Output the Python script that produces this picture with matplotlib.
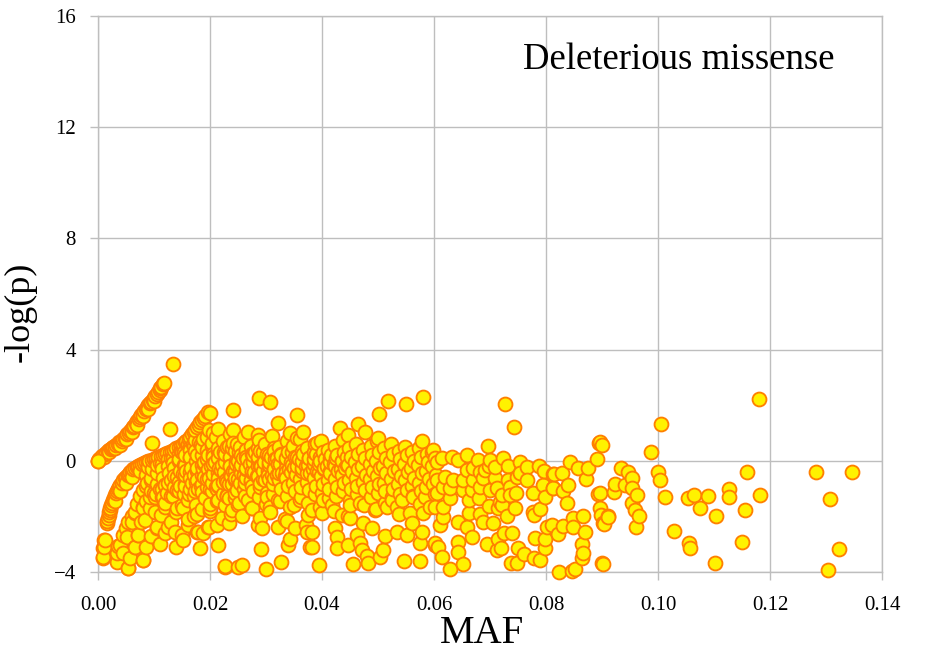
import matplotlib
matplotlib.use("Agg")
import matplotlib.pyplot as plt
import numpy as np

plt.rcParams['font.family'] = ['Liberation Serif', 'DejaVu Serif']

# top curve starting at the origin
curve_a_maf = [0.0000, 0.0005, 0.0010, 0.0015, 0.0020, 0.0025, 0.0030, 0.0035, 0.0040,
               0.0045, 0.0050, 0.0055, 0.0060, 0.0065, 0.0070, 0.0075, 0.0080, 0.0085,
               0.0090, 0.0095, 0.0100, 0.0105, 0.0110, 0.0113, 0.0116, 0.0118,
               0.00025, 0.00075, 0.00125, 0.00175, 0.00225, 0.00275, 0.00325, 0.00375,
               0.00425, 0.00475, 0.00525, 0.00575, 0.00625, 0.00675, 0.00725, 0.00775,
               0.00825, 0.00875, 0.00925, 0.00975, 0.01025, 0.01075, 0.01115,
               0.0010, 0.0020, 0.0030, 0.0040, 0.0050, 0.0060, 0.0070, 0.0080, 0.0090, 0.0100]
curve_a_logp = [0.00, 0.10, 0.19, 0.29, 0.38, 0.46, 0.54, 0.61, 0.68,
                0.77, 0.88, 1.00, 1.13, 1.27, 1.43, 1.58, 1.73, 1.87,
                2.00, 2.13, 2.26, 2.40, 2.55, 2.65, 2.75, 2.80,
                0.06, 0.16, 0.25, 0.34, 0.43, 0.51, 0.58, 0.66,
                0.73, 0.83, 0.95, 1.07, 1.20, 1.35, 1.51, 1.66,
                1.80, 1.94, 2.07, 2.20, 2.33, 2.48, 2.62,
                0.12, 0.30, 0.45, 0.58, 0.78, 1.02, 1.30, 1.60, 1.88, 2.15]

# second curve
curve_b_maf = [0.0016, 0.0018, 0.0020, 0.0022, 0.0025, 0.0028, 0.0032, 0.0036, 0.0040,
               0.0045, 0.0050, 0.0055, 0.0060, 0.0066, 0.0072, 0.0078, 0.0085, 0.0092,
               0.0100, 0.0108, 0.0116, 0.0124, 0.0132, 0.0140, 0.0148, 0.0155, 0.0162,
               0.0168, 0.0174, 0.0180, 0.0186, 0.0192, 0.0196,
               0.0017, 0.0019, 0.0021, 0.0024, 0.0027, 0.0030, 0.0034, 0.0038, 0.0043,
               0.0048, 0.0053, 0.0058, 0.0063, 0.0069, 0.0075, 0.0082, 0.0089, 0.0096,
               0.0104, 0.0112, 0.0120, 0.0128, 0.0136, 0.0144, 0.0152, 0.0158, 0.0165,
               0.0171, 0.0177, 0.0183, 0.0189,
               0.0030, 0.0040, 0.0050, 0.0060, 0.0075, 0.0090, 0.0110, 0.0130, 0.0150, 0.0170]
curve_b_logp = [-2.25, -2.05, -1.85, -1.68, -1.50, -1.33, -1.15, -1.00, -0.87,
                -0.70, -0.57, -0.46, -0.36, -0.27, -0.19, -0.12, -0.05, 0.01,
                0.07, 0.14, 0.21, 0.28, 0.36, 0.45, 0.55, 0.66, 0.80,
                0.95, 1.12, 1.30, 1.47, 1.62, 1.74,
                -2.15, -1.95, -1.76, -1.58, -1.40, -1.24, -1.07, -0.93, -0.78,
                -0.63, -0.51, -0.40, -0.31, -0.23, -0.15, -0.08, -0.02, 0.04,
                0.10, 0.17, 0.25, 0.32, 0.40, 0.50, 0.60, 0.72, 0.87,
                1.03, 1.21, 1.38, 1.55,
                -1.45, -1.10, -0.80, -0.58, -0.38, -0.22, -0.08, 0.10, 0.30, 0.62]

# fan of lower curves
fan_maf = [0.0010, 0.0010, 0.0009, 0.0034, 0.0036, 0.0045, 0.0050, 0.0054, 0.0060, 0.0066,
           0.0070, 0.0075, 0.0080, 0.0088, 0.0095, 0.0105, 0.0115, 0.0125, 0.0134, 0.0145,
           0.0155, 0.0164, 0.0172, 0.0180, 0.0188, 0.0195, 0.0205, 0.0215,
           0.0054, 0.0058, 0.0066, 0.0071, 0.0076, 0.0080, 0.0086, 0.0093, 0.0100, 0.0110,
           0.0120, 0.0130, 0.0141, 0.0152, 0.0164, 0.0176, 0.0190, 0.0205, 0.0218, 0.0230, 0.0242,
           0.0080, 0.0086, 0.0095, 0.0105, 0.0112, 0.0120, 0.0130, 0.0141, 0.0155, 0.0168,
           0.0177, 0.0190, 0.0205, 0.0220, 0.0235, 0.0250, 0.0265, 0.0280,
           0.0110, 0.0120, 0.0130, 0.0140, 0.0150, 0.0160, 0.0172, 0.0185, 0.0200, 0.0215,
           0.0230, 0.0245, 0.0260, 0.0275, 0.0290, 0.0305, 0.0320,
           0.0140, 0.0150, 0.0160, 0.0172, 0.0185, 0.0200, 0.0215, 0.0230, 0.0245, 0.0260,
           0.0275, 0.0290, 0.0305, 0.0320, 0.0335, 0.0350]
fan_logp = [-2.85, -3.10, -3.45, -3.30, -3.05, -2.67, -2.40, -2.20, -2.00, -1.84,
            -1.55, -1.25, -1.05, -0.80, -0.62, -0.43, -0.30, -0.17, -0.07, 0.08,
            0.22, 0.40, 0.55, 0.68, 0.78, 0.87, 1.00, 1.15,
            -3.86, -3.50, -3.10, -2.67, -2.20, -1.69, -1.45, -1.30, -1.15, -1.00,
            -0.86, -0.70, -0.58, -0.48, -0.40, -0.25, -0.05, 0.14, 0.32, 0.50, 0.65,
            -3.57, -3.10, -2.70, -2.38, -1.95, -1.51, -1.28, -1.05, -0.90, -0.78,
            -0.68, -0.58, -0.47, -0.33, -0.18, -0.02, 0.15, 0.32,
            -3.00, -2.60, -2.20, -1.85, -1.60, -1.40, -1.25, -1.12, -1.00, -0.88,
            -0.76, -0.62, -0.50, -0.35, -0.20, -0.05, 0.10,
            -3.10, -2.65, -2.30, -2.00, -1.75, -1.55, -1.40, -1.28, -1.15, -1.02,
            -0.90, -0.78, -0.65, -0.52, -0.40, -0.27]

# densest (orange) core of the cloud
core_maf = [0.0085, 0.0086, 0.0094, 0.0095, 0.0096, 0.0104, 0.0105, 0.0106, 0.0104,
            0.0114, 0.0115, 0.0116, 0.0115, 0.0124, 0.0125, 0.0126, 0.0125,
            0.0134, 0.0135, 0.0136, 0.0135, 0.0134, 0.0144, 0.0145, 0.0146, 0.0145, 0.0144,
            0.0154, 0.0155, 0.0156, 0.0155, 0.0154, 0.0164, 0.0165, 0.0166, 0.0165, 0.0164,
            0.0174, 0.0175, 0.0176, 0.0175, 0.0174, 0.0184, 0.0185, 0.0186, 0.0185, 0.0184,
            0.0194, 0.0195, 0.0196, 0.0195, 0.0194, 0.0204, 0.0205, 0.0206, 0.0205, 0.0204,
            0.0214, 0.0215, 0.0216, 0.0215, 0.0214, 0.0224, 0.0225, 0.0226, 0.0225,
            0.0234, 0.0235, 0.0236, 0.0235, 0.0234, 0.0244, 0.0245, 0.0246, 0.0245,
            0.0254, 0.0255, 0.0256, 0.0255, 0.0254, 0.0264, 0.0265, 0.0266, 0.0265,
            0.0274, 0.0275, 0.0276, 0.0275, 0.0284, 0.0285, 0.0286, 0.0285,
            0.0294, 0.0295, 0.0296, 0.0295, 0.0304, 0.0305, 0.0306,
            0.0314, 0.0315, 0.0316, 0.0315, 0.0324, 0.0325, 0.0326, 0.0334, 0.0335, 0.0336,
            0.0344, 0.0345, 0.0346, 0.0354, 0.0355, 0.0356, 0.0364, 0.0365, 0.0366,
            0.0374, 0.0375, 0.0376, 0.0384, 0.0385, 0.0386, 0.0394, 0.0395, 0.0396,
            0.0404, 0.0405, 0.0414, 0.0415, 0.0416, 0.0424, 0.0425, 0.0434, 0.0435,
            0.0444, 0.0445]
core_logp = [-0.90, -0.50, -1.10, -0.70, -0.30, -1.20, -0.85, -0.15, 0.00,
             -1.30, -1.00, -0.60, -0.10, -1.15, -0.80, -0.45, 0.05,
             -1.25, -0.95, -0.55, -0.25, 0.10, -1.10, -0.75, -0.35, 0.00, 0.25,
             -1.20, -0.85, -0.50, -0.15, 0.30, -1.00, -0.60, -0.25, 0.15, 0.50,
             -1.10, -0.75, -0.35, 0.00, 0.35, -0.90, -0.50, -0.15, 0.20, 0.60,
             -0.95, -0.65, -0.30, 0.05, 0.40, -0.80, -0.45, -0.10, 0.25, 0.65,
             -0.90, -0.60, -0.25, 0.10, 0.45, -0.75, -0.40, -0.05, 0.30,
             -0.85, -0.50, -0.20, 0.15, 0.55, -0.70, -0.35, 0.00, 0.35,
             -0.80, -0.45, -0.15, 0.20, 0.50, -0.60, -0.25, 0.05, 0.40,
             -0.70, -0.40, -0.05, 0.25, -0.55, -0.20, 0.15, 0.45,
             -0.65, -0.35, 0.00, 0.30, -0.50, -0.15, 0.20,
             -0.60, -0.30, 0.05, 0.35, -0.45, -0.10, 0.25, -0.55, -0.25, 0.10,
             -0.40, -0.05, 0.30, -0.50, -0.20, 0.15, -0.35, 0.00, 0.25,
             -0.45, -0.15, 0.10, -0.30, 0.05, 0.30, -0.40, -0.10, 0.15,
             -0.25, 0.05, -0.35, -0.05, 0.20, -0.20, 0.10, -0.30, 0.00,
             -0.15, 0.15]

# wider band, MAF 0.015 - 0.06
band_maf = [
    0.0149, 0.0153, 0.0147, 0.0152,
    0.0160, 0.0164, 0.0158, 0.0163, 0.0161,
    0.0174, 0.0177, 0.0172, 0.0178, 0.0175,
    0.0186, 0.0190, 0.0187, 0.0185, 0.0191, 0.0188,
    0.0199, 0.0203, 0.0197, 0.0202, 0.0198, 0.0204, 0.0200,
    0.0211, 0.0214, 0.0209, 0.0215, 0.0210, 0.0213, 0.0212,
    0.0224, 0.0227, 0.0222, 0.0228, 0.0223, 0.0226,
    0.0236, 0.0240, 0.0235, 0.0241, 0.0237, 0.0239, 0.0234, 0.0238,
    0.0249, 0.0252, 0.0247, 0.0253, 0.0250, 0.0248, 0.0251,
    0.0261, 0.0264, 0.0259, 0.0265, 0.0260, 0.0263, 0.0262, 0.0258,
    0.0274, 0.0277, 0.0272, 0.0278, 0.0273, 0.0276, 0.0275,
    0.0287, 0.0290, 0.0285, 0.0291, 0.0286, 0.0289, 0.0288, 0.0292,
    0.0299, 0.0302, 0.0297, 0.0303, 0.0298, 0.0301, 0.0300,
    0.0311, 0.0314, 0.0309, 0.0315, 0.0310, 0.0313, 0.0312, 0.0308,
    0.0324, 0.0327, 0.0322, 0.0328, 0.0323, 0.0326, 0.0325,
    0.0337, 0.0340, 0.0335, 0.0341, 0.0336, 0.0339, 0.0338, 0.0334,
    0.0349, 0.0352, 0.0347, 0.0353, 0.0348, 0.0351, 0.0350,
    0.0361, 0.0364, 0.0359, 0.0365, 0.0360, 0.0363, 0.0362,
    0.0374, 0.0377, 0.0372, 0.0378, 0.0373, 0.0376, 0.0375, 0.0371,
    0.0387, 0.0390, 0.0385, 0.0391, 0.0386, 0.0389, 0.0388,
    0.0399, 0.0402, 0.0397, 0.0403, 0.0398, 0.0401, 0.0400, 0.0396,
    0.0411, 0.0414, 0.0409, 0.0415, 0.0410, 0.0413, 0.0412,
    0.0424, 0.0427, 0.0422, 0.0428, 0.0423, 0.0426, 0.0425, 0.0421,
    0.0437, 0.0440, 0.0435, 0.0441, 0.0436, 0.0439, 0.0438,
    0.0449, 0.0452, 0.0447, 0.0453, 0.0448, 0.0451, 0.0450, 0.0446,
    0.0461, 0.0464, 0.0459, 0.0465, 0.0460, 0.0463, 0.0462,
    0.0474, 0.0477, 0.0472, 0.0478, 0.0473, 0.0476, 0.0475,
    0.0487, 0.0490, 0.0485, 0.0491, 0.0486, 0.0489, 0.0488,
    0.0499, 0.0502, 0.0497, 0.0503, 0.0498, 0.0501, 0.0500, 0.0496,
    0.0511, 0.0514, 0.0509, 0.0515, 0.0510, 0.0513, 0.0512,
    0.0524, 0.0527, 0.0522, 0.0528, 0.0523, 0.0526, 0.0525,
    0.0537, 0.0540, 0.0535, 0.0541, 0.0536, 0.0539, 0.0538,
    0.0549, 0.0552, 0.0547, 0.0553, 0.0548, 0.0551,
    0.0561, 0.0564, 0.0559, 0.0565, 0.0560, 0.0563,
    0.0574, 0.0577, 0.0572, 0.0578, 0.0573, 0.0576, 0.0575,
    0.0587, 0.0590, 0.0585, 0.0591, 0.0586,
    0.0599, 0.0602, 0.0597, 0.0603, 0.0598, 0.0601]
band_logp = [
    0.35, -0.15, -0.90, -1.70,
    0.60, 0.10, -0.35, -1.20, -2.10,
    0.75, 0.20, -0.50, -1.00, -1.60,
    0.50, -0.10, -0.30, -0.85, -1.35, -2.60,
    1.10, 0.55, 0.20, -0.20, -0.60, -1.10, -1.80,
    0.85, 0.35, -0.05, -0.45, -0.95, -1.45, -2.30,
    0.70, 0.25, -0.15, -0.70, -1.20, -1.60,
    0.95, 0.45, 0.05, -0.35, -0.55, -0.85, -1.35, -1.90,
    0.60, 0.30, -0.10, -0.25, -0.65, -1.05, -1.50,
    0.85, 0.40, 0.10, -0.30, -0.50, -0.80, -1.25, -2.00,
    0.55, 0.20, -0.10, -0.40, -0.75, -1.10, -1.70,
    0.75, 0.35, 0.00, -0.20, -0.55, -0.95, -1.30, -2.40,
    0.60, 0.25, -0.05, -0.35, -0.70, -1.15, -1.55,
    0.90, 0.45, 0.15, -0.25, -0.50, -0.85, -1.20, -1.85,
    0.50, 0.20, -0.10, -0.45, -0.70, -1.00, -1.45,
    0.70, 0.30, 0.00, -0.30, -0.60, -0.90, -1.25, -2.10,
    0.55, 0.15, -0.15, -0.50, -0.80, -1.10, -1.60,
    0.80, 0.35, 0.05, -0.25, -0.65, -0.95, -1.30,
    0.45, 0.10, -0.20, -0.45, -0.75, -1.05, -1.50, -2.30,
    0.60, 0.25, -0.10, -0.35, -0.60, -0.90, -1.20,
    0.70, 0.30, 0.00, -0.30, -0.55, -0.85, -1.15, -1.65,
    0.40, 0.10, -0.20, -0.45, -0.70, -1.00, -1.35,
    0.55, 0.20, -0.10, -0.35, -0.65, -0.95, -1.25, -1.80,
    0.75, 0.30, 0.00, -0.25, -0.50, -0.80, -1.10,
    0.45, 0.15, -0.15, -0.40, -0.70, -1.00, -1.40, -2.00,
    0.60, 0.25, -0.05, -0.30, -0.60, -0.90, -1.20,
    0.40, 0.10, -0.20, -0.50, -0.75, -1.05, -1.60,
    0.55, 0.20, -0.10, -0.35, -0.65, -0.95, -1.30,
    0.70, 0.30, 0.00, -0.25, -0.55, -0.85, -1.15, -1.75,
    0.45, 0.10, -0.20, -0.45, -0.80, -1.10, -1.50,
    0.60, 0.25, -0.05, -0.35, -0.65, -1.00, -1.30,
    0.35, 0.05, -0.30, -0.55, -0.85, -1.20, -1.90,
    0.50, 0.20, -0.10, -0.40, -0.70, -1.05,
    0.30, 0.00, -0.25, -0.60, -0.90, -1.25,
    0.45, 0.15, -0.15, -0.45, -0.80, -1.10, -1.55,
    0.25, -0.05, -0.35, -0.65, -0.95,
    0.40, 0.10, -0.20, -0.50, -0.85, -1.20]

# sparse points below the band
low_maf = [0.0120, 0.0141, 0.0102, 0.0080, 0.0093, 0.0120, 0.0141, 0.0066, 0.0061, 0.0084,
           0.0105, 0.0125, 0.0138, 0.0152, 0.0179, 0.0196, 0.0182, 0.0214, 0.0052, 0.0039,
           0.0045, 0.0034, 0.0054, 0.0080, 0.0071, 0.0066, 0.0013, 0.0009, 0.0009, 0.0227,
           0.0250, 0.0102, 0.0116, 0.0230, 0.0239,
           0.0227, 0.0257, 0.0300, 0.0291, 0.0327, 0.0339, 0.0343, 0.0379, 0.0177, 0.0198,
           0.0234, 0.0286, 0.0321, 0.0352, 0.0373, 0.0221, 0.0289, 0.0337, 0.0177, 0.0200,
           0.0250, 0.0275, 0.0307, 0.0343, 0.0375, 0.0230, 0.0245, 0.0268, 0.0302, 0.0321,
           0.0361, 0.0212,
           0.0423, 0.0427, 0.0427, 0.0446, 0.0462, 0.0468, 0.0471, 0.0480, 0.0482, 0.0455,
           0.0504, 0.0509, 0.0395, 0.0382, 0.0382, 0.0546, 0.0575, 0.0575, 0.0552, 0.0512,
           0.0489, 0.0534, 0.0561, 0.0579, 0.0602, 0.0473, 0.0450, 0.0436, 0.0495, 0.0516,
           0.0534, 0.0525, 0.0543, 0.0563, 0.0584, 0.0593, 0.0580, 0.0557, 0.0418, 0.0402,
           0.0400, 0.0382, 0.0468, 0.0450]
low_logp = [-0.86, -1.05, -1.30, -1.66, -1.69, -1.66, -1.69, -1.87, -2.20, -2.13,
            -2.41, -2.38, -2.56, -2.85, -2.56, -2.38, -3.13, -3.03, -2.74, -3.03,
            -3.32, -3.64, -3.86, -3.57, -2.67, -3.10, -2.85, -3.13, -3.50, -3.82,
            -3.82, -1.84, -1.30, -1.23, -1.77,
            -3.78, -3.75, -3.89, -3.17, -3.64, -3.03, -2.81, -3.10, -2.56, -2.38,
            -2.23, -2.31, -2.38, -2.41, -2.56, -2.05, -2.05, -2.16, -1.91, -1.69,
            -1.59, -1.69, -1.66, -1.66, -1.95, -1.26, -1.33, -1.41, -1.30, -1.41,
            -1.41, -1.01,
            -2.41, -2.74, -3.13, -3.03, -2.67, -2.95, -3.21, -3.42, -3.68, -3.71,
            -3.46, -3.21, -3.75, -3.10, -2.56, -3.60, -3.60, -2.95, -2.67, -2.70,
            -2.41, -2.56, -2.23, -2.56, -3.03, -2.23, -2.05, -1.95, -1.77, -1.66,
            -1.66, -1.41, -1.41, -1.30, -1.30, -1.66, -1.87, -1.87, -1.59, -1.41,
            -1.87, -1.77, -1.51, -1.59]

# sparse points above the band
high_maf = [0.0134, 0.0096, 0.0129, 0.0288, 0.0307, 0.0241, 0.0355, 0.0321, 0.0518, 0.0550,
            0.0580, 0.0502, 0.0579, 0.0432, 0.0464, 0.0477, 0.0200, 0.0241, 0.0268, 0.0286,
            0.0343, 0.0366, 0.0355, 0.0500, 0.0446, 0.0391, 0.0727, 0.0743, 0.0696]
high_logp = [3.50, 0.65, 1.15, 2.27, 2.13, 1.84, 1.66, 1.37, 2.16, 2.05,
             2.31, 1.69, 0.72, 1.19, 1.33, 1.05, 1.73, 1.12, 1.05, 0.94,
             1.01, 1.05, 0.83, 0.83, 0.94, 0.65, 2.05, 1.23, 0.54]

# MAF 0.06 - 0.09
mid_maf = [0.0632, 0.0643, 0.0659, 0.0659, 0.0679, 0.0700, 0.0723, 0.0732, 0.0754, 0.0766,
           0.0788, 0.0796, 0.0814, 0.0813, 0.0795, 0.0798, 0.0777, 0.0766, 0.0748, 0.0754,
           0.0736, 0.0746, 0.0745, 0.0730, 0.0721, 0.0714, 0.0721, 0.0700, 0.0680, 0.0698,
           0.0682, 0.0687, 0.0663, 0.0659, 0.0668, 0.0705, 0.0725, 0.0739, 0.0714, 0.0695,
           0.0713, 0.0720, 0.0750, 0.0761, 0.0738, 0.0748, 0.0779, 0.0789, 0.0798, 0.0798,
           0.0780, 0.0802, 0.0777, 0.0789, 0.0779, 0.0643, 0.0643, 0.0652, 0.0629, 0.0614,
           0.0607, 0.0602, 0.0611, 0.0616, 0.0602, 0.0616, 0.0629, 0.0643, 0.0663, 0.0652,
           0.0668, 0.0629, 0.0616, 0.0605, 0.0682, 0.0713, 0.0718, 0.0736, 0.0732, 0.0709,
           0.0687, 0.0670, 0.0652, 0.0634, 0.0620, 0.0605, 0.0670, 0.0691, 0.0709, 0.0682,
           0.0605, 0.0596, 0.0614, 0.0698,
           0.0895, 0.0891, 0.0843, 0.0857, 0.0875, 0.0871, 0.0829, 0.0813, 0.0813, 0.0839,
           0.0830, 0.0838, 0.0893, 0.0896, 0.0898, 0.0911, 0.0902, 0.0866, 0.0848, 0.0848,
           0.0830, 0.0821, 0.0811, 0.0870, 0.0864, 0.0866, 0.0864, 0.0900, 0.0823, 0.0846,
           0.0852, 0.0900, 0.0896]
mid_logp = [0.14, 0.04, 0.22, -0.32, 0.04, 0.04, 0.11, -0.18, -0.04, -0.22,
            -0.18, -0.36, -0.47, -0.97, -0.86, -1.30, -1.15, -0.68, -0.58, -0.43,
            -0.94, -1.15, -1.69, -1.98, -1.59, -1.69, -1.22, -1.05, -1.33, -1.62,
            -1.91, -2.20, -1.87, -2.38, -2.74, -2.23, -2.59, -2.59, -2.81, -2.99,
            -3.21, -3.13, -3.13, -3.35, -3.68, -3.68, -3.50, -3.57, -3.13, -2.81,
            -2.77, -2.38, -1.84, -1.73, -1.95, -2.92, -3.28, -3.71, -3.89, -3.46,
            -3.10, -2.95, -2.31, -2.02, -1.66, -1.66, -1.33, -2.20, -1.41, -1.05,
            -1.05, -0.97, -0.94, -1.15, -0.94, -0.97, -1.48, -1.22, -0.68, -0.61,
            -0.61, -0.68, -0.68, -0.68, -0.58, -0.68, -0.25, -0.32, -0.22, -0.40,
            -0.04, 0.32, 0.11, -0.18,
            0.65, 0.07, -0.04, -0.25, -0.25, -0.65, -0.43, -0.47, -0.97, -0.86,
            -1.08, -1.51, -1.19, -1.69, -1.95, -1.98, -2.23, -1.98, -2.05, -2.38,
            -2.34, -2.63, -2.31, -2.56, -2.99, -3.32, -3.50, -3.68, -4.00, -3.96,
            -3.89, 0.58, 0.68]

# MAF above 0.09
tail_maf = [0.1180, 0.1005, 0.0987, 0.1000, 0.1004, 0.1012, 0.1029, 0.1054, 0.1064, 0.1055,
            0.1057, 0.1075, 0.1089, 0.1104, 0.1102, 0.1127, 0.1127, 0.1155, 0.1150, 0.1159,
            0.1182, 0.1282, 0.1346, 0.1307, 0.1323, 0.1304,
            0.0934, 0.0946, 0.0954, 0.0923, 0.0921, 0.0941, 0.0954, 0.0963, 0.0954, 0.0959,
            0.0966, 0.0960, 0.0911, 0.0904, 0.0902, 0.0896]
tail_logp = [2.23, 1.33, 0.32, -0.40, -0.68, -1.30, -2.52, -1.33, -1.22, -2.95,
             -3.13, -1.69, -1.26, -1.98, -3.68, -1.01, -1.30, -1.77, -2.92, -0.40,
             -1.22, -0.40, -0.40, -1.37, -3.17, -3.93,
             -0.25, -0.40, -0.61, -0.83, -1.12, -0.86, -0.97, -1.22, -1.51, -1.77,
             -1.98, -2.38, -2.02, -2.27, -3.71, -1.15]

x_ticks = [0.00, 0.02, 0.04, 0.06, 0.08, 0.10, 0.12, 0.14]
y_ticks = [-4, 0, 4, 8, 12, 16]

maf = np.array(band_maf + low_maf + high_maf + mid_maf + tail_maf
               + core_maf + fan_maf + curve_b_maf + curve_a_maf)
logp = np.array(band_logp + low_logp + high_logp + mid_logp + tail_logp
                + core_logp + fan_logp + curve_b_logp + curve_a_logp)
# draw in order of MAF so dense runs show as stacked orange rims
order = np.argsort(maf, kind='stable')

fig = plt.figure(figsize=(9.26, 6.56), dpi=100)
ax = fig.add_axes([0.1058, 0.128, 0.8467, 0.8476])

ax.scatter(maf[order], logp[order], s=100, facecolor='#FFF200', edgecolor='#FF8000',
           linewidths=1.35, zorder=3, clip_on=False)
# the point at the origin sits on top of the curve
ax.scatter(curve_a_maf[:1], curve_a_logp[:1], s=100, facecolor='#FFF200',
           edgecolor='#FF8000', linewidths=1.35, zorder=4, clip_on=False)

ax.set_xlim(0, 0.14)
ax.set_ylim(-4, 16)
ax.set_xticks(x_ticks)
ax.set_yticks(y_ticks)
ax.set_xticklabels([f"{t:.2f}" for t in x_ticks])
ax.grid(True, color='#BEBEBE', linewidth=1.0, zorder=0)
ax.set_axisbelow(True)
for side in ['left', 'bottom', 'top', 'right']:
    ax.spines[side].set_color('#BEBEBE')
    ax.spines[side].set_linewidth(1.0)
ax.tick_params(axis='both', colors='#BEBEBE', labelcolor='black', labelsize=15,
               length=6, width=1.0)
ax.tick_params(axis='x', pad=11)
ax.tick_params(axis='y', pad=10)

ax.set_xlabel('MAF', fontsize=28)
ax.xaxis.set_label_coords(0.49, -0.078)
ax.set_ylabel('-log(p)', fontsize=26)
ax.yaxis.set_label_coords(-0.078, 0.468)
ax.text(0.0759, 14.09, 'Deleterious missense', fontsize=26.5, ha='left', va='baseline')

fig.savefig('out.png', dpi=100)
